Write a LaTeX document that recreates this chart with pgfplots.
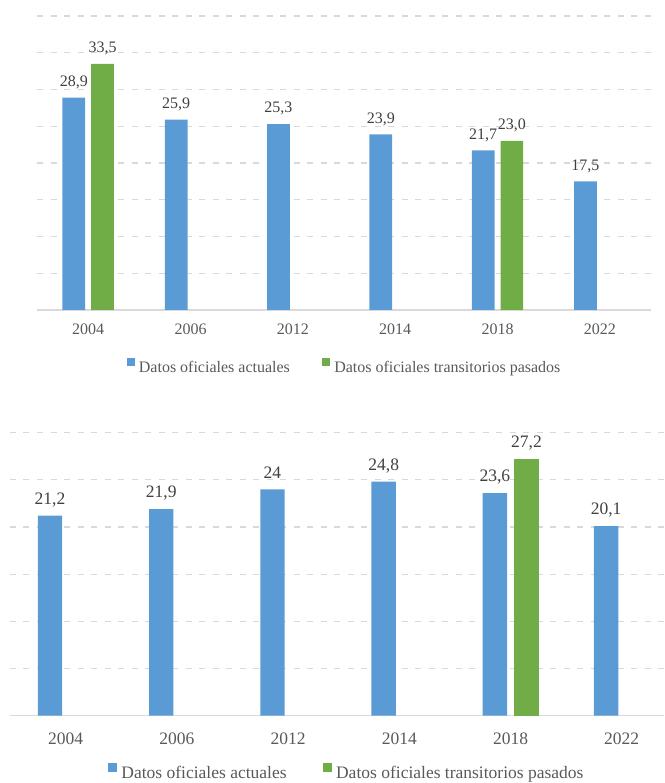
\documentclass[border=0pt]{standalone}
\usepackage{pgfplots}
\pgfplotsset{compat=1.18}
\usepackage{fontspec}
\setmainfont{Liberation Serif}
\definecolor{cblue}{HTML}{5B9BD5}
\definecolor{cgreen}{HTML}{70AD47}
\definecolor{cgrid}{HTML}{D9D9D9}
\definecolor{clab}{HTML}{404040}
\definecolor{ctick}{HTML}{595959}
\pgfplotsset{
  mystyle/.style={
    scale only axis, ybar, ymin=0, xmin=-0.5,
    axis line style={draw=none}, major tick length=0pt,
    xtick={0,...,5}, xticklabels={2004,2006,2012,2014,2018,2022},
    yticklabels={}, ymajorgrids,
    major grid style={cgrid, line width=1.2pt, dash pattern=on 6pt off 7.5pt},
    extra y ticks={0}, extra y tick labels={},
    extra y tick style={major grid style={cgrid, line width=1.2pt, solid}},
    nodes near coords,
    /pgf/number format/assume math mode=true,
    /pgf/number format/use comma,
    /pgf/number format/fixed,
    /pgf/number format/precision=1,
    legend columns=2,
    clip=false,
  }
}
\begin{document}
\begin{tikzpicture}
\path[use as bounding box] (0pt,0pt) rectangle (664pt,783pt);
% ---------- top chart ----------
\begin{axis}[mystyle,
  at={(37pt,473pt)}, anchor=south west,
  width=614pt, height=294pt,
  xmax=5.5, ymax=40, ytick={5,10,...,40},
  bar width=22.7pt,
  /pgf/number format/fixed zerofill,
  xticklabel style={font=\fontsize{16}{19}\selectfont, color=ctick, inner sep=0pt, anchor=north, yshift=-13.3pt},
  nodes near coords style={font=\fontsize{16}{19}\selectfont, color=clab, anchor=south, inner sep=0pt, text depth=0pt, yshift=11pt},
  legend image code/.code={\fill[#1] (0pt,1.5pt) rectangle (8pt,9.5pt);},
  legend style={at={(0.1461,-0.190)}, anchor=west, draw=none, fill=none, inner sep=0pt,
    font=\fontsize{16}{19}\selectfont, text=ctick, nodes={inner sep=0pt},
    /tikz/every odd column/.append style={column sep=4pt},
    /tikz/column 2/.style={column sep=32.3pt}},
]
\addplot[fill=cblue, draw=none, bar shift=-14.35pt] coordinates {(0,28.9) (1,25.9) (2,25.3) (3,23.9) (4,21.7) (5,17.5)};
\addlegendentry{Datos oficiales actuales}
\addplot[fill=cgreen, draw=none, bar shift=14.35pt] coordinates {(0,33.5) (4,23.0)};
\addlegendentry{Datos oficiales transitorios pasados}
\end{axis}
% ---------- bottom chart ----------
\begin{axis}[mystyle,
  at={(10pt,67.3pt)}, anchor=south west,
  width=654pt, height=283pt,
  xmax=5.38, ymax=30, ytick={5,10,...,30},
  bar width=24.4pt,
  xticklabel style={font=\fontsize{17.5}{21}\selectfont, color=ctick, inner sep=0pt, anchor=north, yshift=-17pt},
  nodes near coords style={font=\fontsize{17.5}{21}\selectfont, color=clab, anchor=south, inner sep=0pt, text depth=0pt, yshift=11pt},
  legend image code/.code={\fill[#1] (0pt,1pt) rectangle (8.6pt,9.6pt);},
  legend style={at={(0.1503,-0.1975)}, anchor=west, draw=none, fill=none, inner sep=0pt,
    font=\fontsize{17.5}{21}\selectfont, text=ctick, nodes={inner sep=0pt},
    /tikz/every odd column/.append style={column sep=4.3pt},
    /tikz/column 2/.style={column sep=36.6pt}},
]
\addplot[fill=cblue, draw=none, bar shift=-15.6pt] coordinates {(0,21.2) (1,21.9) (2,24) (3,24.8) (4,23.6) (5,20.1)};
\addlegendentry{Datos oficiales actuales}
\addplot[fill=cgreen, draw=none, bar shift=16pt] coordinates {(4,27.2)};
\addlegendentry{Datos oficiales transitorios pasados}
\end{axis}
\end{tikzpicture}
\end{document}
